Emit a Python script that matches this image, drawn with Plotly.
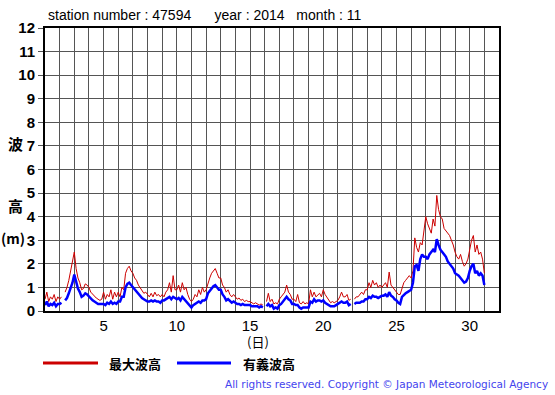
import plotly.graph_objects as go

# 3-hourly readings per day (day 1 .. day 30), then end point at day 31.0
max_wave_by_day = [
    [0.5, 0.8, 0.4, 0.6, 0.5, 0.7, 0.4, 0.6],
    [0.5, 0.6, None, 0.8, 1.0, 1.3, 1.7, 2.1],
    [2.5, 1.8, 1.4, 1.2, 0.9, 0.95, 1.15, 1.1],
    [1.0, 0.8, 0.7, 0.6, 0.55, 0.5, 0.45, 0.5],
    [0.8, 0.5, 0.7, 0.6, 0.9, 0.5, 0.8, 0.6],
    [0.8, 0.6, 1.0, 0.9, 1.6, 1.8, 1.9, 1.7],
    [1.6, 1.4, 1.3, 1.1, 1.0, 0.85, 0.75, 0.8],
    [0.7, 0.6, 0.75, 0.6, 0.8, 0.65, 0.7, 0.6],
    [0.7, 0.6, 0.8, 0.9, 1.2, 0.8, 1.5, 0.9],
    [0.9, 1.1, 0.8, 1.2, 0.9, 1.0, 0.7, 0.5],
    [0.4, 0.5, 0.7, 0.6, 0.9, 0.7, 1.0, 0.8],
    [0.9, 1.2, 1.4, 1.6, 1.7, 1.8, 1.6, 1.4],
    [1.4, 1.1, 1.0, 0.8, 0.9, 0.7, 0.6, 0.7],
    [0.6, 0.5, 0.55, 0.45, 0.5, 0.4, 0.45, 0.4],
    [0.4, 0.35, 0.3, 0.35, 0.3, 0.25, 0.3, 0.25],
    [None, 0.4, 0.75, 0.4, 0.5, 0.3, 0.35, 0.3],
    [0.5, 0.6, 0.7, 0.8, 1.1, 0.8, 0.7, 0.5],
    [0.5, 0.4, 0.7, 0.35, 0.3, 0.4, 0.3, 0.35],
    [0.3, 0.9, 0.6, 0.8, 0.6, 0.7, 0.75, 0.6],
    [0.9, 0.7, 0.6, 0.5, 0.35, 0.4, 0.35, 0.4],
    [0.45, 0.6, 0.8, 0.6, 0.6, 0.7, 0.45, 0.5],
    [None, 0.5, 0.6, 0.6, 0.7, 0.8, 0.7, 0.9],
    [0.9, 1.2, 1.0, 1.3, 1.1, 1.2, 1.0, 1.1],
    [1.0, 1.1, 1.2, 1.0, 1.65, 1.1, 1.0, 0.9],
    [0.8, 0.7, 0.7, 1.0, 1.2, 1.3, 1.4, 1.5],
    [1.4, 1.7, 3.1, 2.7, 2.5, 2.9, 2.8, 3.5],
    [4.0, 3.7, 3.5, 3.3, 3.9, 3.6, 4.9, 4.3],
    [4.0, 3.9, 3.5, 3.4, 3.3, 3.2, 3.0, 2.8],
    [2.5, 2.3, 2.2, 2.4, 2.1, 1.9, 2.0, 2.2],
    [2.6, 3.0, 3.2, 2.5, 2.8, 2.4, 2.5, 2.2],
]
max_wave_end = 1.6

sig_wave_by_day = [
    [0.25, 0.4, 0.2, 0.3, 0.25, 0.35, 0.2, 0.3],
    [0.3, 0.35, None, 0.45, 0.55, 0.75, 0.95, 1.2],
    [1.55, 1.2, 0.95, 0.8, 0.6, 0.65, 0.75, 0.7],
    [0.6, 0.5, 0.45, 0.4, 0.35, 0.3, 0.3, 0.3],
    [0.3, 0.25, 0.35, 0.3, 0.4, 0.3, 0.35, 0.3],
    [0.4, 0.4, 0.6, 0.6, 1.0, 1.15, 1.2, 1.1],
    [1.0, 0.9, 0.85, 0.75, 0.65, 0.55, 0.5, 0.45],
    [0.4, 0.4, 0.45, 0.4, 0.45, 0.4, 0.4, 0.35],
    [0.45, 0.45, 0.5, 0.55, 0.6, 0.5, 0.6, 0.55],
    [0.5, 0.55, 0.45, 0.6, 0.5, 0.45, 0.35, 0.2],
    [0.15, 0.25, 0.3, 0.35, 0.4, 0.35, 0.45, 0.45],
    [0.5, 0.75, 0.85, 1.0, 1.05, 1.1, 1.0, 0.9],
    [0.9, 0.7, 0.6, 0.45, 0.5, 0.4, 0.35, 0.4],
    [0.35, 0.3, 0.3, 0.25, 0.3, 0.25, 0.25, 0.25],
    [0.25, 0.2, 0.2, 0.2, 0.2, 0.15, 0.2, 0.15],
    [None, 0.2, 0.3, 0.2, 0.25, 0.1, 0.15, 0.1],
    [0.25, 0.3, 0.4, 0.5, 0.6, 0.5, 0.45, 0.3],
    [0.3, 0.25, 0.25, 0.15, 0.1, 0.15, 0.15, 0.15],
    [0.15, 0.4, 0.35, 0.5, 0.4, 0.45, 0.45, 0.4],
    [0.45, 0.35, 0.3, 0.25, 0.2, 0.2, 0.2, 0.25],
    [0.3, 0.35, 0.4, 0.35, 0.35, 0.4, 0.25, 0.3],
    [None, 0.3, 0.35, 0.35, 0.35, 0.4, 0.4, 0.5],
    [0.5, 0.6, 0.55, 0.65, 0.6, 0.6, 0.55, 0.6],
    [0.65, 0.65, 0.7, 0.6, 0.8, 0.65, 0.6, 0.5],
    [0.45, 0.35, 0.3, 0.6, 0.7, 0.75, 0.8, 0.85],
    [0.9, 1.2, 1.9, 1.95, 1.7, 2.2, 2.4, 2.3],
    [2.3, 2.2, 2.4, 2.5, 2.6, 2.5, 3.05, 2.8],
    [2.6, 2.5, 2.4, 2.3, 2.1, 2.0, 1.9, 1.8],
    [1.6, 1.55, 1.5, 1.4, 1.3, 1.2, 1.25, 1.4],
    [1.7, 1.9, 2.0, 1.6, 1.7, 1.5, 1.6, 1.5],
]
sig_wave_end = 1.1

hours = [0, 3, 6, 9, 12, 15, 18, 21]
x_tick_vals = [5, 10, 15, 20, 25, 30]
y_tick_vals = list(range(0, 13))

times = []
max_vals = []
sig_vals = []
for d, (mrow, srow) in enumerate(zip(max_wave_by_day, sig_wave_by_day), start=1):
    for h, mv, sv in zip(hours, mrow, srow):
        times.append(d + h / 24)
        max_vals.append(mv)
        sig_vals.append(sv)
times.append(31.0)
max_vals.append(max_wave_end)
sig_vals.append(sig_wave_end)

RED = "#cc0000"
BLUE = "#0000ff"

fig = go.Figure()
fig.add_trace(go.Scatter(x=times, y=max_vals, mode="lines",
                         line=dict(color=RED, width=1), connectgaps=False,
                         showlegend=False, hoverinfo="skip"))
fig.add_trace(go.Scatter(x=times, y=sig_vals, mode="lines",
                         line=dict(color=BLUE, width=2.5), connectgaps=False,
                         showlegend=False, hoverinfo="skip"))

fig.update_layout(
    width=555, height=395,
    margin=dict(l=45, r=56, t=28, b=84),
    paper_bgcolor="white", plot_bgcolor="white",
    font=dict(family="Liberation Sans, Arial, sans-serif", color="black"),
    xaxis=dict(range=[1, 32], tickvals=x_tick_vals, showgrid=True,
               gridcolor="#555555", gridwidth=1,
               minor=dict(dtick=1, tick0=1, showgrid=True, gridcolor="#555555", gridwidth=1),
               showline=True, linecolor="black", linewidth=2, mirror=True,
               ticks="", tickfont=dict(size=15), zeroline=False),
    yaxis=dict(range=[0, 12], tickvals=y_tick_vals, showgrid=True,
               gridcolor="#555555", gridwidth=1,
               showline=True, linecolor="black", linewidth=2, mirror=True,
               ticks="outside", ticklen=5, tickcolor="#555555",
               tickfont=dict(size=15, family="Liberation Sans, Arial, sans-serif", weight="bold"),
               zeroline=False),
)

annotations = [
    dict(text="station number : 47594&nbsp;&nbsp;&nbsp;&nbsp;&nbsp;&nbsp;year : 2014&nbsp;&nbsp;&nbsp;month : 11",
         x=46, y=15, font=dict(size=14)),
    dict(text="<b>波</b>", x=15, y=143, font=dict(size=15, family="Noto Sans CJK JP"), xanchor_c=True),
    dict(text="<b>高</b>", x=15, y=205, font=dict(size=15, family="Noto Sans CJK JP"), xanchor_c=True),
    dict(text="<b>(m)</b>", x=13, y=238, font=dict(size=14, family="Noto Sans CJK JP"), xanchor_c=True),
    dict(text="(日)", x=258, y=342, font=dict(size=13, family="Noto Sans CJK JP"), xanchor_c=True),
    dict(text="<b>最大波高</b>", x=107, y=363, font=dict(size=13, family="Noto Sans CJK JP")),
    dict(text="<b>有義波高</b>", x=241, y=363, font=dict(size=13, family="Noto Sans CJK JP")),
]

L, R, T, B = 45, 499, 28, 311

def px(x):
    return (x - L) / (R - L)

def py(y):
    return (B - y) / (B - T)

for a in annotations:
    centered = a.pop("xanchor_c", False)
    fig.add_annotation(text=a["text"], x=px(a["x"]), y=py(a["y"]), xref="paper", yref="paper",
                       xanchor="center" if centered else "left", yanchor="middle",
                       showarrow=False, font=a["font"])

fig.add_annotation(text="All rights reserved. Copyright © Japan Meteorological Agency",
                   x=px(550), y=py(384), xref="paper", yref="paper", xanchor="right",
                   yanchor="middle", showarrow=False,
                   font=dict(size=10.5, color="#4444ee", family="DejaVu Sans"))

fig.add_shape(type="line", xref="paper", yref="paper", x0=px(43), x1=px(98), y0=py(363), y1=py(363),
              line=dict(color=RED, width=3))
fig.add_shape(type="line", xref="paper", yref="paper", x0=px(177), x1=px(231), y0=py(363), y1=py(363),
              line=dict(color=BLUE, width=3))

fig.write_html("out.html", config={"displayModeBar": False},
               post_script="document.body.style.margin='0';document.body.style.padding='0';")
